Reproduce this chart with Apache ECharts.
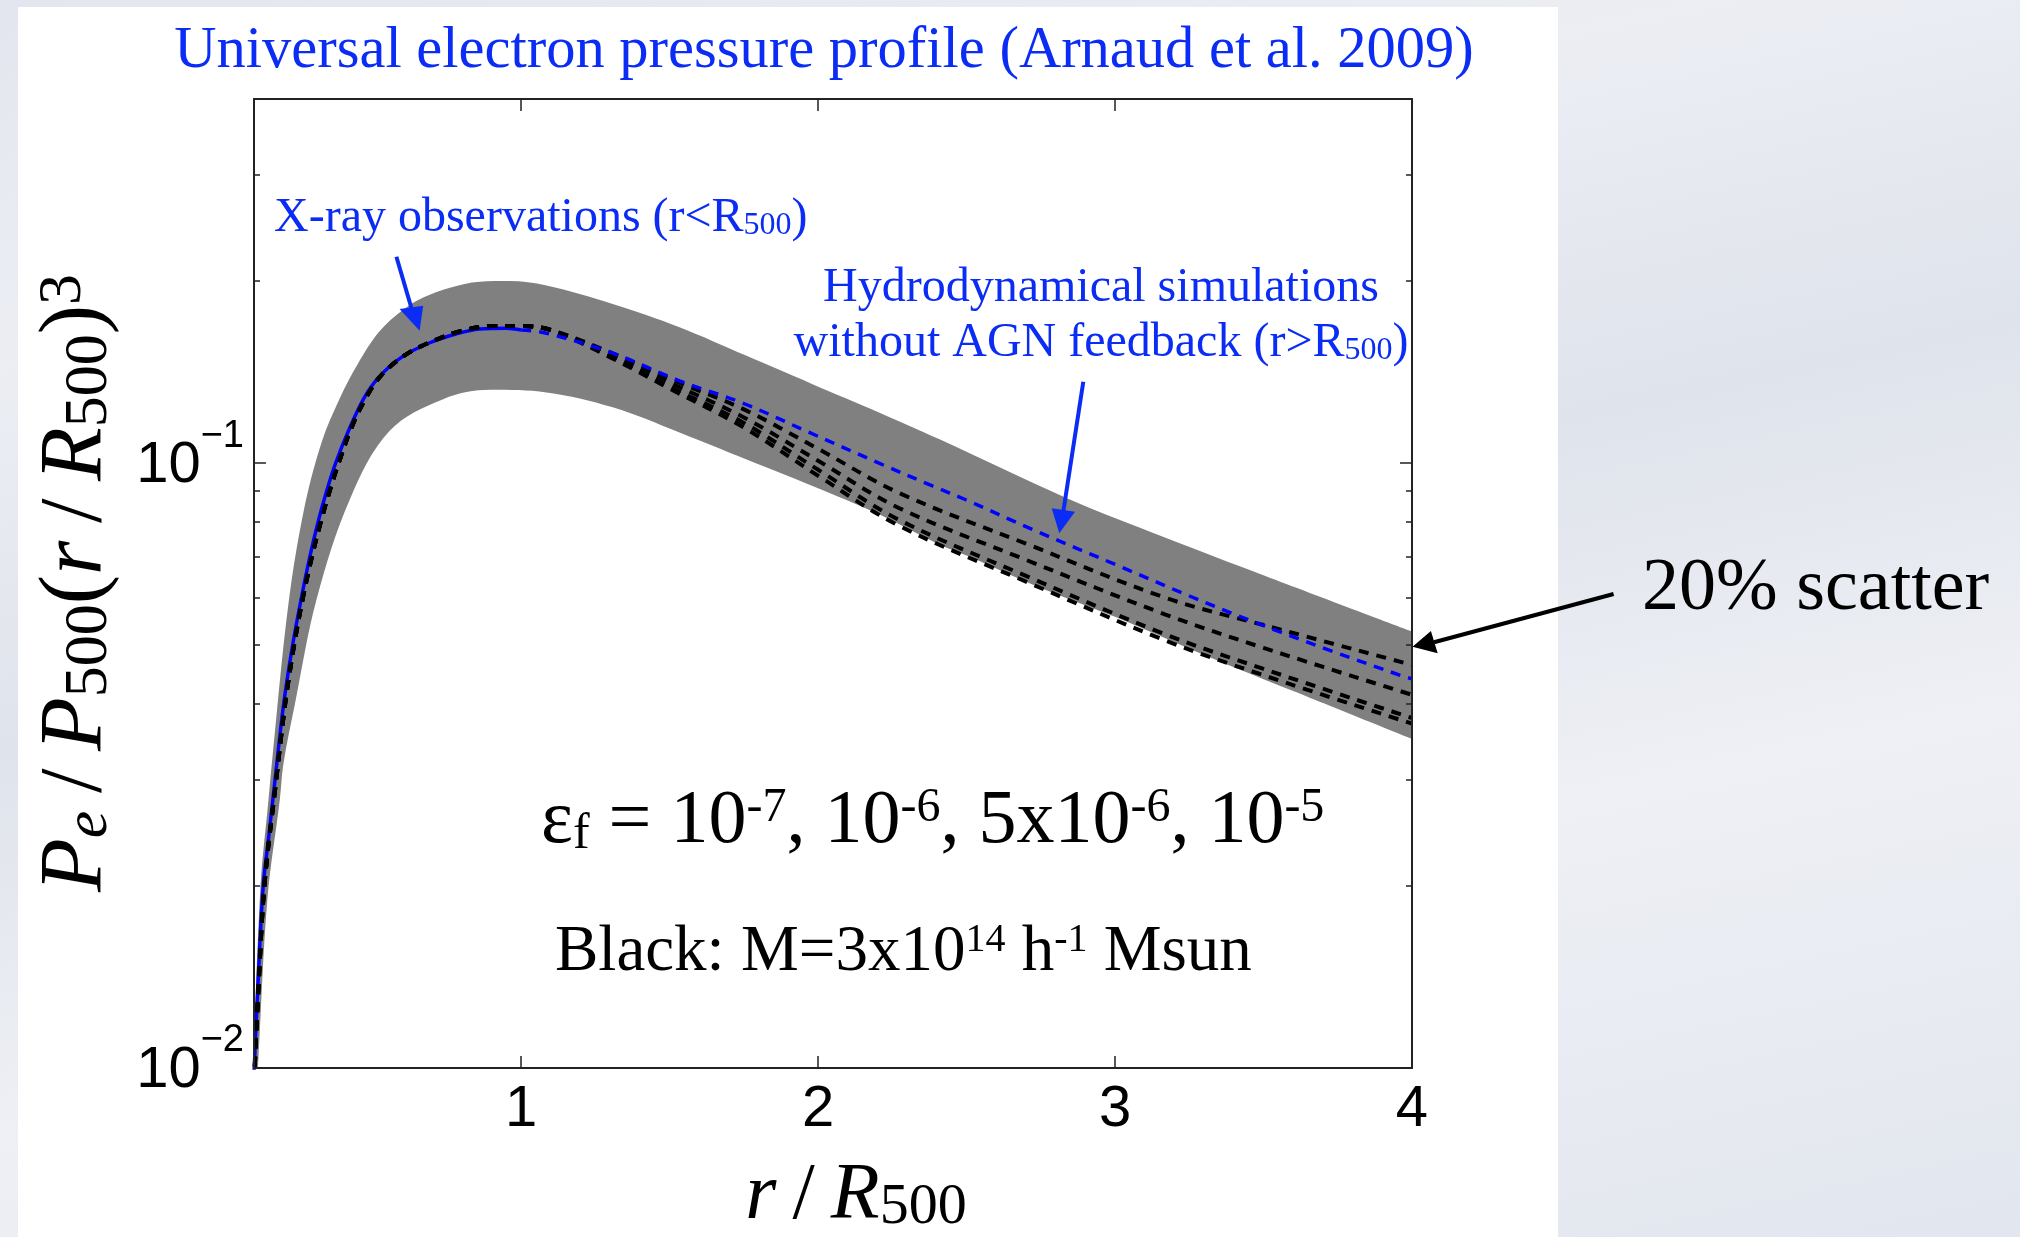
<!DOCTYPE html>
<html><head><meta charset="utf-8">
<script src="https://cdn.jsdelivr.net/npm/echarts@6/dist/echarts.min.js"></script>
<style>
html,body{margin:0;padding:0;width:2020px;height:1237px;overflow:hidden;}
body{background:linear-gradient(168deg,#e3e6ee 0%,#eceef4 22%,#dfe3eb 45%,#eef0f5 68%,#e2e6ee 100%);}
#panel{position:absolute;left:18px;top:7px;width:1540px;height:1230px;background:#ffffff;}
#chart{position:absolute;left:0;top:0;width:2020px;height:1237px;}
</style></head>
<body><div id="panel"></div><div id="chart"></div>
<script>
// ---------- data ----------
const xTickValues  = [1, 2, 3];
const xLabelValues = [1, 2, 3, 4];
const yMajorTicks  = [0.01, 0.1];
const yMinorTicks  = [0.02, 0.03, 0.04, 0.05, 0.06, 0.07, 0.08, 0.09, 0.2, 0.3];

// 20% scatter band (upper / lower edges)
const upperX = [0.100,0.122,0.148,0.163,0.215,0.267,0.327,0.389,0.450,0.522,0.600,0.672,0.760,0.860,0.960,1.085,1.308,1.533,1.757,1.981,2.205,2.407,2.834,3.170,3.506,4.000];
const upperY = [0.0108,0.020,0.0275,0.033,0.058,0.0832,0.108,0.128,0.146,0.165,0.179,0.188,0.195,0.1995,0.2000,0.1966,0.1833,0.1678,0.1506,0.1351,0.1213,0.1096,0.0877,0.0753,0.0651,0.0527];
const lowerX = [0.100,0.114,0.145,0.187,0.199,0.238,0.311,0.423,0.557,0.737,0.897,1.085,1.308,1.533,1.757,1.981,2.205,2.407,2.502,2.750,3.000,3.282,3.600,4.000];
const lowerY = [0.0078,0.0102,0.0190,0.0278,0.0318,0.040,0.0596,0.0872,0.1131,0.1276,0.1322,0.1309,0.1237,0.1124,0.1015,0.0917,0.0823,0.0734,0.0703,0.0622,0.0557,0.0486,0.0420,0.0350];

// blue: X-ray observations (solid, r<R500) and simulations (dashed, r>R500)
const blueSolidX = [0.100,0.114,0.131,0.150,0.171,0.200,0.230,0.260,0.288,0.316,0.345,0.375,0.418,0.470,0.522,0.600,0.690,0.780,0.860,0.950,1.000];
const blueSolidY = [0.0098,0.0140,0.020,0.0242,0.030,0.040,0.050,0.060,0.070,0.080,0.090,0.100,0.113,0.128,0.139,0.150,0.158,0.1635,0.1667,0.1672,0.1660];
const blueDashX = [1.000,1.085,1.308,1.533,1.746,1.970,2.205,2.385,2.497,2.721,3.013,3.237,3.461,3.730,3.966,4.000];
const blueDashY = [0.1660,0.1640,0.152,0.1368,0.1257,0.1124,0.100,0.0917,0.0870,0.0777,0.0676,0.0607,0.0548,0.0489,0.0445,0.0440];

// black: four feedback efficiencies (shared inner part, diverging tails)
const blackInnerX = [0.100,0.115,0.135,0.175,0.205,0.235,0.265,0.295,0.325,0.355,0.385,0.430,0.480,0.530,0.610,0.700,0.800,0.900,1.000,1.100];
const blackInnerY = [0.0094,0.0135,0.020,0.030,0.040,0.050,0.060,0.070,0.080,0.090,0.100,0.115,0.129,0.140,0.151,0.159,0.1655,0.1685,0.1685,0.1660];
const blackTailX = [1.300,1.500,1.750,2.000,2.270,2.700,3.170,3.500,4.000];
const blackA = [0.1525,0.1379,0.1227,0.1056,0.0894,0.0736,0.0599,0.0540,0.0464];
const blackB = [0.1513,0.1359,0.1190,0.1009,0.0844,0.0692,0.0562,0.0495,0.0414];
const blackC = [0.1502,0.1338,0.1165,0.0975,0.0807,0.0651,0.0521,0.0457,0.0379];
const blackD = [0.1496,0.1328,0.1145,0.0953,0.0789,0.0637,0.0509,0.0446,0.0371];

// ---------- build ----------
const zip = (xs, ys) => xs.map((x, i) => [x, ys[i]]);
const blackSeriesData = [blackA, blackB, blackC, blackD].map(t => zip(blackInnerX, blackInnerY).concat(zip(blackTailX, t)));

const BLUE_TXT = '#0a2cf5';
const SERIF = '"Liberation Serif", "Times New Roman", serif';
const SANS = '"Liberation Sans", Arial, Helvetica, sans-serif';
const axisLine = { show: true, onZero: false, lineStyle: { color: '#222', width: 2 } };
const tickStyle = { color: '#222', width: 1.5 };
const TS = '\u2009';

const yBase = { type: 'log', logBase: 10, min: 0.01, max: 0.4, splitLine: { show: false }, z: 10 };
const supLabel = v => '{b|10}{s|\u2212' + Math.round(-Math.log10(v)) + '}';

const chart = echarts.init(document.getElementById('chart'), null, { renderer: 'canvas' });
const option = {
  animation: false,
  backgroundColor: 'transparent',
  grid: { left: 254, top: 99, width: 1158, height: 969, outerBoundsMode: 'none', containLabel: false },
  xAxis: [
    { type: 'value', min: 0.1, max: 4, position: 'bottom', z: 10,
      axisLine: axisLine,
      axisTick: { show: true, inside: true, length: 12, customValues: xTickValues, lineStyle: tickStyle },
      axisLabel: { show: true, customValues: xLabelValues, fontFamily: SANS, fontSize: 58, color: '#000', margin: 13,
                   formatter: v => String(v) },
      splitLine: { show: false } },
    { type: 'value', min: 0.1, max: 4, position: 'top', z: 10,
      axisLine: axisLine,
      axisTick: { show: true, inside: true, length: 12, customValues: xTickValues, lineStyle: tickStyle },
      axisLabel: { show: false }, splitLine: { show: false } }
  ],
  yAxis: [
    Object.assign({}, yBase, { position: 'left', axisLine: axisLine,
      axisTick: { show: true, inside: true, length: 12, customValues: yMajorTicks, lineStyle: tickStyle },
      axisLabel: { show: true, customValues: yMajorTicks, margin: 10, formatter: supLabel,
        rich: {
          b: { fontFamily: SANS, fontSize: 58, lineHeight: 58, color: '#000', padding: [6, 0, 0, 0] },
          s: { fontFamily: SANS, fontSize: 38, lineHeight: 38, color: '#000', padding: [0, 0, 54, 0] }
        } } }),
    Object.assign({}, yBase, { position: 'left', axisLine: { show: false },
      axisTick: { show: true, inside: true, length: 6, customValues: yMinorTicks, lineStyle: tickStyle },
      axisLabel: { show: false } }),
    Object.assign({}, yBase, { position: 'right', axisLine: axisLine,
      axisTick: { show: true, inside: true, length: 12, customValues: yMajorTicks, lineStyle: tickStyle },
      axisLabel: { show: false } }),
    Object.assign({}, yBase, { position: 'right', axisLine: { show: false },
      axisTick: { show: true, inside: true, length: 6, customValues: yMinorTicks, lineStyle: tickStyle },
      axisLabel: { show: false } })
  ],
  series: [
    { type: 'line', name: 'band upper', data: zip(upperX, upperY), smooth: 0.35, symbol: 'none', silent: true,
      lineStyle: { width: 0, opacity: 0 }, areaStyle: { color: '#808080', opacity: 1, origin: 'start' } },
    { type: 'line', name: 'band lower', data: zip(lowerX, lowerY), smooth: 0.35, symbol: 'none', silent: true,
      lineStyle: { width: 0, opacity: 0 }, areaStyle: { color: '#ffffff', opacity: 1, origin: 'start' } },
    { type: 'line', name: 'X-ray', data: zip(blueSolidX, blueSolidY), smooth: 0.35, symbol: 'none', silent: true,
      lineStyle: { color: '#0000ff', width: 3.5 } },
    ...blackSeriesData.map((d, i) => ({ type: 'line', name: 'black' + i, data: d, smooth: 0.35, symbol: 'none', silent: true,
      lineStyle: { color: '#000000', width: 4, type: [10, 8] } })),
    { type: 'line', name: 'sim', data: zip(blueDashX, blueDashY), smooth: 0.35, symbol: 'none', silent: true,
      lineStyle: { color: '#0000ff', width: 3.5, type: [10, 8] } }
  ],
  graphic: { elements: [
    { type: 'text', z: 100, x: 824, y: 52, style: { text: 'Universal electron pressure profile (Arnaud et al. 2009)',
      font: '58.5px ' + SERIF, fill: BLUE_TXT, align: 'center', verticalAlign: 'middle' } },
    { type: 'text', z: 100, x: 274, y: 218, style: { text: '{m|X-ray observations (r<R}{s|500}{m|)}', align: 'left', verticalAlign: 'middle',
      rich: { m: { fontFamily: SERIF, fontSize: 48, lineHeight: 48, fill: BLUE_TXT },
              s: { fontFamily: SERIF, fontSize: 32, lineHeight: 32, fill: BLUE_TXT, verticalAlign: 'bottom' } } } },
    { type: 'text', z: 100, x: 1101, y: 288, style: { text: 'Hydrodynamical simulations', font: '48px ' + SERIF, fill: BLUE_TXT,
      align: 'center', verticalAlign: 'middle' } },
    { type: 'text', z: 100, x: 1101, y: 343, style: { text: '{m|without AGN feedback (r>R}{s|500}{m|)}', align: 'center', verticalAlign: 'middle',
      rich: { m: { fontFamily: SERIF, fontSize: 48, lineHeight: 48, fill: BLUE_TXT },
              s: { fontFamily: SERIF, fontSize: 32, lineHeight: 32, fill: BLUE_TXT, verticalAlign: 'bottom' } } } },
    { type: 'text', z: 100, x: 541, y: 822, style: { text: '{m|\u03b5}{f|f}{m| = 10}{p|-7}{m|, 10}{p|-6}{m|, 5x10}{p|-6}{m|, 10}{p|-5}',
      align: 'left', verticalAlign: 'middle',
      rich: { m: { fontFamily: SERIF, fontSize: 76, lineHeight: 76, fill: '#000' },
              f: { fontFamily: SERIF, fontSize: 50, lineHeight: 50, fill: '#000', verticalAlign: 'bottom' },
              p: { fontFamily: SERIF, fontSize: 48, lineHeight: 48, fill: '#000', verticalAlign: 'top' } } } },
    { type: 'text', z: 100, x: 555, y: 953, style: { text: '{m|Black: M=3x10}{p|14}{m| h}{p|-1}{m| Msun}',
      align: 'left', verticalAlign: 'middle',
      rich: { m: { fontFamily: SERIF, fontSize: 65, lineHeight: 65, fill: '#000' },
              p: { fontFamily: SERIF, fontSize: 40, lineHeight: 40, fill: '#000', verticalAlign: 'top' } } } },
    { type: 'text', z: 100, x: 1642, y: 590, style: { text: '20% scatter', font: '74px ' + SERIF, fill: '#000',
      align: 'left', verticalAlign: 'middle' } },
    // axis titles
    { type: 'text', z: 100, x: 856, y: 1197, style: { text: '{i|r}{n|' + TS + '/' + TS + '}{i|R}{s|500}', align: 'center', verticalAlign: 'middle',
      rich: { i: { fontFamily: SERIF, fontStyle: 'italic', fontSize: 80, lineHeight: 80, fill: '#000' },
              n: { fontFamily: SERIF, fontSize: 80, lineHeight: 80, fill: '#000' },
              s: { fontFamily: SERIF, fontSize: 58, lineHeight: 58, fill: '#000', verticalAlign: 'bottom' } } } },
    { type: 'text', z: 100, x: 77, y: 583, rotation: Math.PI / 2, style: {
      text: '{i|P}{e|e}{n|' + TS + '/' + TS + '}{i|P}{s|500}{n|(}{i|r}{n|' + TS + '/' + TS + '}{i|R}{s|500}{n|)}{p|3}',
      align: 'center', verticalAlign: 'middle',
      rich: { i: { fontFamily: SERIF, fontStyle: 'italic', fontSize: 88, lineHeight: 88, fill: '#000' },
              n: { fontFamily: SERIF, fontSize: 88, lineHeight: 88, fill: '#000' },
              e: { fontFamily: SERIF, fontStyle: 'italic', fontSize: 62, lineHeight: 62, fill: '#000', verticalAlign: 'bottom' },
              s: { fontFamily: SERIF, fontSize: 62, lineHeight: 62, fill: '#000', verticalAlign: 'bottom' },
              p: { fontFamily: SERIF, fontSize: 62, lineHeight: 62, fill: '#000', verticalAlign: 'top' } } } },
    // arrows
    { type: 'line', z: 100, shape: { x1: 396.4, y1: 256.8, x2: 411.4, y2: 308 }, style: { stroke: '#0a2cf5', lineWidth: 4 } },
    { type: 'polygon', z: 100, shape: { points: [[419.6, 330.7], [399.6, 308.9], [423.2, 305.8]] }, style: { fill: '#0a2cf5' } },
    { type: 'line', z: 100, shape: { x1: 1083.3, y1: 381.7, x2: 1063.4, y2: 511 }, style: { stroke: '#0a2cf5', lineWidth: 4 } },
    { type: 'polygon', z: 100, shape: { points: [[1059.3, 533.3], [1051.7, 508.3], [1075, 511.7]] }, style: { fill: '#0a2cf5' } },
    { type: 'line', z: 100, shape: { x1: 1613.6, y1: 594, x2: 1434, y2: 642.2 }, style: { stroke: '#000', lineWidth: 4 } },
    { type: 'polygon', z: 100, shape: { points: [[1412.5, 646.7], [1430.9, 631], [1437.7, 653.3]] }, style: { fill: '#000' } }
  ] }
};
chart.setOption(option);
</script>
</body></html>
